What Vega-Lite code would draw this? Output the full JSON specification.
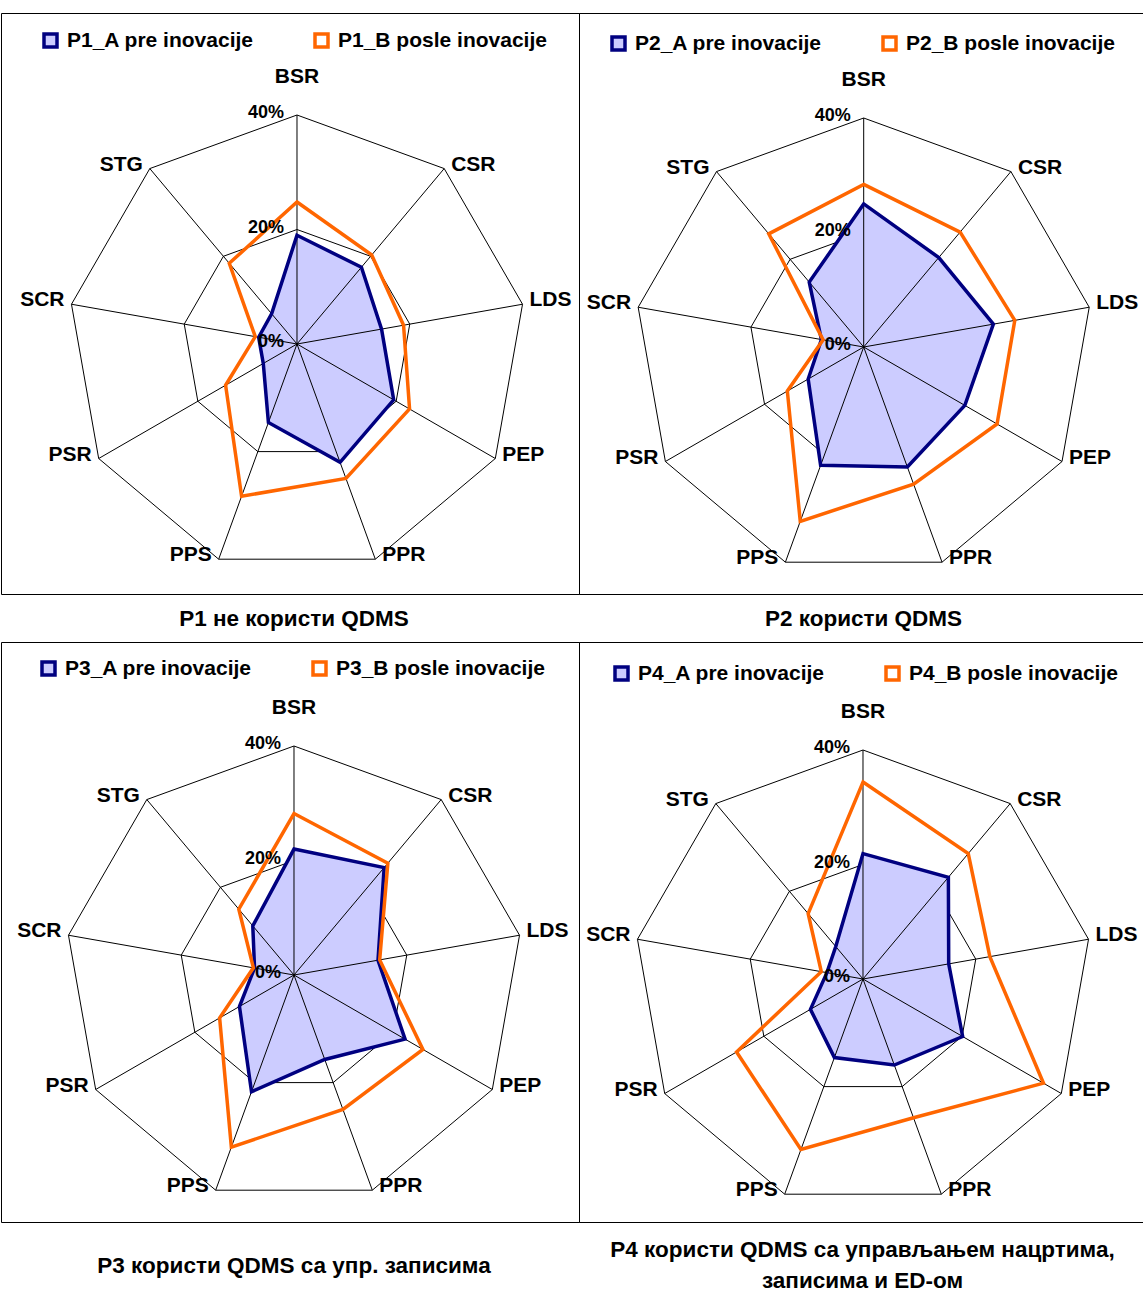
{
  "$schema": "https://vega.github.io/schema/vega-lite/v6.json",
  "padding": {"top": 12, "left": 0, "right": 0, "bottom": 0},
  "background": "white",
  "spacing": 0,
  "config": {
    "view": {"stroke": "black", "strokeWidth": 1},
    "font": "Liberation Sans",
    "concat": {"spacing": 0},
    "legend": {
      "direction": "horizontal",
      "symbolType": "square",
      "symbolSize": 169,
      "symbolStrokeWidth": 3.5,
      "labelFont": "Liberation Sans",
      "labelFontSize": 21,
      "labelFontWeight": "bold",
      "labelColor": "black",
      "labelOffset": 6,
      "labelLimit": 400,
      "columnPadding": 54,
      "padding": 0
    }
  },
  "datasets": {
    "grid": [
      {"axis": "BSR", "value": 0}, {"axis": "CSR", "value": 0}, {"axis": "LDS", "value": 0}, {"axis": "PEP", "value": 0}, {"axis": "PPR", "value": 0}, {"axis": "PPS", "value": 0}, {"axis": "PSR", "value": 0}, {"axis": "SCR", "value": 0}, {"axis": "STG", "value": 0},
      {"axis": "BSR", "value": 0.2}, {"axis": "CSR", "value": 0.2}, {"axis": "LDS", "value": 0.2}, {"axis": "PEP", "value": 0.2}, {"axis": "PPR", "value": 0.2}, {"axis": "PPS", "value": 0.2}, {"axis": "PSR", "value": 0.2}, {"axis": "SCR", "value": 0.2}, {"axis": "STG", "value": 0.2},
      {"axis": "BSR", "value": 0.4}, {"axis": "CSR", "value": 0.4}, {"axis": "LDS", "value": 0.4}, {"axis": "PEP", "value": 0.4}, {"axis": "PPR", "value": 0.4}, {"axis": "PPS", "value": 0.4}, {"axis": "PSR", "value": 0.4}, {"axis": "SCR", "value": 0.4}, {"axis": "STG", "value": 0.4}
    ],
    "scores": [
      {"panel": "P1", "series": "P1_A pre inovacije", "axis": "BSR", "value": 0.19},
      {"panel": "P1", "series": "P1_A pre inovacije", "axis": "CSR", "value": 0.175},
      {"panel": "P1", "series": "P1_A pre inovacije", "axis": "LDS", "value": 0.15},
      {"panel": "P1", "series": "P1_A pre inovacije", "axis": "PEP", "value": 0.195},
      {"panel": "P1", "series": "P1_A pre inovacije", "axis": "PPR", "value": 0.22},
      {"panel": "P1", "series": "P1_A pre inovacije", "axis": "PPS", "value": 0.146},
      {"panel": "P1", "series": "P1_A pre inovacije", "axis": "PSR", "value": 0.068},
      {"panel": "P1", "series": "P1_A pre inovacije", "axis": "SCR", "value": 0.068},
      {"panel": "P1", "series": "P1_A pre inovacije", "axis": "STG", "value": 0.069},
      {"panel": "P1", "series": "P1_B posle inovacije", "axis": "BSR", "value": 0.248},
      {"panel": "P1", "series": "P1_B posle inovacije", "axis": "CSR", "value": 0.203},
      {"panel": "P1", "series": "P1_B posle inovacije", "axis": "LDS", "value": 0.189},
      {"panel": "P1", "series": "P1_B posle inovacije", "axis": "PEP", "value": 0.227},
      {"panel": "P1", "series": "P1_B posle inovacije", "axis": "PPR", "value": 0.25},
      {"panel": "P1", "series": "P1_B posle inovacije", "axis": "PPS", "value": 0.283},
      {"panel": "P1", "series": "P1_B posle inovacije", "axis": "PSR", "value": 0.144},
      {"panel": "P1", "series": "P1_B posle inovacije", "axis": "SCR", "value": 0.074},
      {"panel": "P1", "series": "P1_B posle inovacije", "axis": "STG", "value": 0.184},
      {"panel": "P2", "series": "P2_A pre inovacije", "axis": "BSR", "value": 0.25},
      {"panel": "P2", "series": "P2_A pre inovacije", "axis": "CSR", "value": 0.204},
      {"panel": "P2", "series": "P2_A pre inovacije", "axis": "LDS", "value": 0.23},
      {"panel": "P2", "series": "P2_A pre inovacije", "axis": "PEP", "value": 0.204},
      {"panel": "P2", "series": "P2_A pre inovacije", "axis": "PPR", "value": 0.223},
      {"panel": "P2", "series": "P2_A pre inovacije", "axis": "PPS", "value": 0.22},
      {"panel": "P2", "series": "P2_A pre inovacije", "axis": "PSR", "value": 0.112},
      {"panel": "P2", "series": "P2_A pre inovacije", "axis": "SCR", "value": 0.075},
      {"panel": "P2", "series": "P2_A pre inovacije", "axis": "STG", "value": 0.148},
      {"panel": "P2", "series": "P2_B posle inovacije", "axis": "BSR", "value": 0.284},
      {"panel": "P2", "series": "P2_B posle inovacije", "axis": "CSR", "value": 0.262},
      {"panel": "P2", "series": "P2_B posle inovacije", "axis": "LDS", "value": 0.268},
      {"panel": "P2", "series": "P2_B posle inovacije", "axis": "PEP", "value": 0.269},
      {"panel": "P2", "series": "P2_B posle inovacije", "axis": "PPR", "value": 0.255},
      {"panel": "P2", "series": "P2_B posle inovacije", "axis": "PPS", "value": 0.324},
      {"panel": "P2", "series": "P2_B posle inovacije", "axis": "PSR", "value": 0.154},
      {"panel": "P2", "series": "P2_B posle inovacije", "axis": "SCR", "value": 0.072},
      {"panel": "P2", "series": "P2_B posle inovacije", "axis": "STG", "value": 0.258},
      {"panel": "P3", "series": "P3_A pre inovacije", "axis": "BSR", "value": 0.22},
      {"panel": "P3", "series": "P3_A pre inovacije", "axis": "CSR", "value": 0.245},
      {"panel": "P3", "series": "P3_A pre inovacije", "axis": "LDS", "value": 0.149},
      {"panel": "P3", "series": "P3_A pre inovacije", "axis": "PEP", "value": 0.224},
      {"panel": "P3", "series": "P3_A pre inovacije", "axis": "PPR", "value": 0.157},
      {"panel": "P3", "series": "P3_A pre inovacije", "axis": "PPS", "value": 0.217},
      {"panel": "P3", "series": "P3_A pre inovacije", "axis": "PSR", "value": 0.11},
      {"panel": "P3", "series": "P3_A pre inovacije", "axis": "SCR", "value": 0.07},
      {"panel": "P3", "series": "P3_A pre inovacije", "axis": "STG", "value": 0.112},
      {"panel": "P3", "series": "P3_B posle inovacije", "axis": "BSR", "value": 0.282},
      {"panel": "P3", "series": "P3_B posle inovacije", "axis": "CSR", "value": 0.255},
      {"panel": "P3", "series": "P3_B posle inovacije", "axis": "LDS", "value": 0.152},
      {"panel": "P3", "series": "P3_B posle inovacije", "axis": "PEP", "value": 0.26},
      {"panel": "P3", "series": "P3_B posle inovacije", "axis": "PPR", "value": 0.25},
      {"panel": "P3", "series": "P3_B posle inovacije", "axis": "PPS", "value": 0.32},
      {"panel": "P3", "series": "P3_B posle inovacije", "axis": "PSR", "value": 0.15},
      {"panel": "P3", "series": "P3_B posle inovacije", "axis": "SCR", "value": 0.072},
      {"panel": "P3", "series": "P3_B posle inovacije", "axis": "STG", "value": 0.15},
      {"panel": "P4", "series": "P4_A pre inovacije", "axis": "BSR", "value": 0.219},
      {"panel": "P4", "series": "P4_A pre inovacije", "axis": "CSR", "value": 0.232},
      {"panel": "P4", "series": "P4_A pre inovacije", "axis": "LDS", "value": 0.152},
      {"panel": "P4", "series": "P4_A pre inovacije", "axis": "PEP", "value": 0.201},
      {"panel": "P4", "series": "P4_A pre inovacije", "axis": "PPR", "value": 0.16},
      {"panel": "P4", "series": "P4_A pre inovacije", "axis": "PPS", "value": 0.146},
      {"panel": "P4", "series": "P4_A pre inovacije", "axis": "PSR", "value": 0.106},
      {"panel": "P4", "series": "P4_A pre inovacije", "axis": "SCR", "value": 0.064},
      {"panel": "P4", "series": "P4_A pre inovacije", "axis": "STG", "value": 0.074},
      {"panel": "P4", "series": "P4_B posle inovacije", "axis": "BSR", "value": 0.344},
      {"panel": "P4", "series": "P4_B posle inovacije", "axis": "CSR", "value": 0.286},
      {"panel": "P4", "series": "P4_B posle inovacije", "axis": "LDS", "value": 0.225},
      {"panel": "P4", "series": "P4_B posle inovacije", "axis": "PEP", "value": 0.364},
      {"panel": "P4", "series": "P4_B posle inovacije", "axis": "PPR", "value": 0.258},
      {"panel": "P4", "series": "P4_B posle inovacije", "axis": "PPS", "value": 0.317},
      {"panel": "P4", "series": "P4_B posle inovacije", "axis": "PSR", "value": 0.255},
      {"panel": "P4", "series": "P4_B posle inovacije", "axis": "SCR", "value": 0.074},
      {"panel": "P4", "series": "P4_B posle inovacije", "axis": "STG", "value": 0.149}
    ]
  },
  "resolve": {"scale": {"x": "independent", "y": "independent", "stroke": "independent"}, "legend": {"stroke": "independent"}},
  "vconcat": [
    {
      "hconcat": [
        {
          "width": 578, "height": 581,
          "encoding": {
            "x": {"field": "gx", "type": "quantitative", "axis": null, "scale": {"domain": [-0.51703, 0.49258], "nice": false, "zero": false}},
            "y": {"field": "gy", "type": "quantitative", "axis": null, "scale": {"domain": [-0.43668, 0.57817], "nice": false, "zero": false}}
          },
          "layer": [
            {"data": {"name": "grid"}, "transform": [{"filter": "datum.value > 0"}, {"calculate": "indexof(['BSR','CSR','LDS','PEP','PPR','PPS','PSR','SCR','STG'], datum.axis)", "as": "i"}, {"calculate": "datum.value*sin(2*PI*datum.i/9)", "as": "gx"}, {"calculate": "datum.value*cos(2*PI*datum.i/9)", "as": "gy"}],
             "mark": {"type": "line", "interpolate": "linear-closed", "color": "black", "strokeWidth": 1},
             "encoding": {"detail": {"field": "value", "type": "nominal"}, "order": {"field": "i", "type": "quantitative"}}},
            {"data": {"name": "scores"}, "transform": [{"filter": "datum.panel == 'P1' && indexof(datum.series, '_A') >= 0"}, {"calculate": "indexof(['BSR','CSR','LDS','PEP','PPR','PPS','PSR','SCR','STG'], datum.axis)", "as": "i"}, {"calculate": "datum.value*sin(2*PI*datum.i/9)", "as": "gx"}, {"calculate": "datum.value*cos(2*PI*datum.i/9)", "as": "gy"}],
             "mark": {"type": "line", "interpolate": "linear-closed", "fill": "#CCCCFF", "strokeWidth": 0},
             "encoding": {"order": {"field": "i", "type": "quantitative"}}},
            {"data": {"name": "grid"}, "transform": [{"filter": "datum.value == 0.4"}, {"calculate": "indexof(['BSR','CSR','LDS','PEP','PPR','PPS','PSR','SCR','STG'], datum.axis)", "as": "i"}, {"calculate": "datum.value*sin(2*PI*datum.i/9)", "as": "gx"}, {"calculate": "datum.value*cos(2*PI*datum.i/9)", "as": "gy"}],
             "mark": {"type": "rule", "color": "black", "strokeWidth": 1},
             "encoding": {"x2": {"datum": 0}, "y2": {"datum": 0}}},
            {"data": {"name": "scores"}, "transform": [{"filter": "datum.panel == 'P1'"}, {"calculate": "indexof(['BSR','CSR','LDS','PEP','PPR','PPS','PSR','SCR','STG'], datum.axis)", "as": "i"}, {"calculate": "datum.value*sin(2*PI*datum.i/9)", "as": "gx"}, {"calculate": "datum.value*cos(2*PI*datum.i/9)", "as": "gy"}],
             "mark": {"type": "line", "interpolate": "linear-closed", "strokeWidth": 3.5},
             "encoding": {"order": {"field": "i", "type": "quantitative"},
               "stroke": {"field": "series", "type": "nominal", "scale": {"domain": ["P1_A pre inovacije", "P1_B posle inovacije"], "range": ["#000080", "#FF6600"]},
                 "legend": {"title": null, "orient": "none", "legendX": 39, "legendY": 17, "encode": {"symbols": {"update": {"fill": {"signal": "indexof(datum.value, '_A') >= 0 ? '#CCCCFF' : '#FFFFFF'"}}}}}}}},
            {"data": {"name": "grid"}, "transform": [{"filter": "datum.value == 0.4 && datum.axis == 'BSR'"}, {"calculate": "indexof(['BSR','CSR','LDS','PEP','PPR','PPS','PSR','SCR','STG'], datum.axis)", "as": "i"}, {"calculate": "datum.value*sin(2*PI*datum.i/9)", "as": "gx"}, {"calculate": "datum.value*cos(2*PI*datum.i/9)", "as": "gy"}],
             "mark": {"type": "text", "fontSize": 21, "fontWeight": "bold", "color": "black", "align": "center", "baseline": "middle", "dy": -38},
             "encoding": {"text": {"field": "axis", "type": "nominal"}}},
            {"data": {"name": "grid"}, "transform": [{"filter": "datum.value == 0.4 && indexof(['CSR','LDS','PEP','PPR'], datum.axis) >= 0"}, {"calculate": "indexof(['BSR','CSR','LDS','PEP','PPR','PPS','PSR','SCR','STG'], datum.axis)", "as": "i"}, {"calculate": "datum.value*sin(2*PI*datum.i/9)", "as": "gx"}, {"calculate": "datum.value*cos(2*PI*datum.i/9)", "as": "gy"}],
             "mark": {"type": "text", "fontSize": 21, "fontWeight": "bold", "color": "black", "align": "left", "baseline": "middle", "dx": 7, "dy": -4},
             "encoding": {"text": {"field": "axis", "type": "nominal"}}},
            {"data": {"name": "grid"}, "transform": [{"filter": "datum.value == 0.4 && indexof(['PPS','PSR','SCR','STG'], datum.axis) >= 0"}, {"calculate": "indexof(['BSR','CSR','LDS','PEP','PPR','PPS','PSR','SCR','STG'], datum.axis)", "as": "i"}, {"calculate": "datum.value*sin(2*PI*datum.i/9)", "as": "gx"}, {"calculate": "datum.value*cos(2*PI*datum.i/9)", "as": "gy"}],
             "mark": {"type": "text", "fontSize": 21, "fontWeight": "bold", "color": "black", "align": "right", "baseline": "middle", "dx": -7, "dy": -4},
             "encoding": {"text": {"field": "axis", "type": "nominal"}}},
            {"data": {"name": "grid"}, "transform": [{"filter": "datum.axis == 'BSR'"}, {"calculate": "indexof(['BSR','CSR','LDS','PEP','PPR','PPS','PSR','SCR','STG'], datum.axis)", "as": "i"}, {"calculate": "datum.value*sin(2*PI*datum.i/9)", "as": "gx"}, {"calculate": "datum.value*cos(2*PI*datum.i/9)", "as": "gy"}],
             "mark": {"type": "text", "fontSize": 18, "fontWeight": "bold", "color": "black", "align": "right", "baseline": "middle", "dx": -13, "dy": -2},
             "encoding": {"text": {"field": "value", "type": "quantitative", "format": ".0%"}}}
          ]
        },
        {
          "width": 565, "height": 581,
          "encoding": {
            "x": {"field": "gx", "type": "quantitative", "axis": null, "scale": {"domain": [-0.49729, 0.48961], "nice": false, "zero": false}},
            "y": {"field": "gy", "type": "quantitative", "axis": null, "scale": {"domain": [-0.43144, 0.58341], "nice": false, "zero": false}}
          },
          "layer": [
            {"data": {"name": "grid"}, "transform": [{"filter": "datum.value > 0"}, {"calculate": "indexof(['BSR','CSR','LDS','PEP','PPR','PPS','PSR','SCR','STG'], datum.axis)", "as": "i"}, {"calculate": "datum.value*sin(2*PI*datum.i/9)", "as": "gx"}, {"calculate": "datum.value*cos(2*PI*datum.i/9)", "as": "gy"}],
             "mark": {"type": "line", "interpolate": "linear-closed", "color": "black", "strokeWidth": 1},
             "encoding": {"detail": {"field": "value", "type": "nominal"}, "order": {"field": "i", "type": "quantitative"}}},
            {"data": {"name": "scores"}, "transform": [{"filter": "datum.panel == 'P2' && indexof(datum.series, '_A') >= 0"}, {"calculate": "indexof(['BSR','CSR','LDS','PEP','PPR','PPS','PSR','SCR','STG'], datum.axis)", "as": "i"}, {"calculate": "datum.value*sin(2*PI*datum.i/9)", "as": "gx"}, {"calculate": "datum.value*cos(2*PI*datum.i/9)", "as": "gy"}],
             "mark": {"type": "line", "interpolate": "linear-closed", "fill": "#CCCCFF", "strokeWidth": 0},
             "encoding": {"order": {"field": "i", "type": "quantitative"}}},
            {"data": {"name": "grid"}, "transform": [{"filter": "datum.value == 0.4"}, {"calculate": "indexof(['BSR','CSR','LDS','PEP','PPR','PPS','PSR','SCR','STG'], datum.axis)", "as": "i"}, {"calculate": "datum.value*sin(2*PI*datum.i/9)", "as": "gx"}, {"calculate": "datum.value*cos(2*PI*datum.i/9)", "as": "gy"}],
             "mark": {"type": "rule", "color": "black", "strokeWidth": 1},
             "encoding": {"x2": {"datum": 0}, "y2": {"datum": 0}}},
            {"data": {"name": "scores"}, "transform": [{"filter": "datum.panel == 'P2'"}, {"calculate": "indexof(['BSR','CSR','LDS','PEP','PPR','PPS','PSR','SCR','STG'], datum.axis)", "as": "i"}, {"calculate": "datum.value*sin(2*PI*datum.i/9)", "as": "gx"}, {"calculate": "datum.value*cos(2*PI*datum.i/9)", "as": "gy"}],
             "mark": {"type": "line", "interpolate": "linear-closed", "strokeWidth": 3.5},
             "encoding": {"order": {"field": "i", "type": "quantitative"},
               "stroke": {"field": "series", "type": "nominal", "scale": {"domain": ["P2_A pre inovacije", "P2_B posle inovacije"], "range": ["#000080", "#FF6600"]},
                 "legend": {"title": null, "orient": "none", "legendX": 29, "legendY": 20, "encode": {"symbols": {"update": {"fill": {"signal": "indexof(datum.value, '_A') >= 0 ? '#CCCCFF' : '#FFFFFF'"}}}}}}}},
            {"data": {"name": "grid"}, "transform": [{"filter": "datum.value == 0.4 && datum.axis == 'BSR'"}, {"calculate": "indexof(['BSR','CSR','LDS','PEP','PPR','PPS','PSR','SCR','STG'], datum.axis)", "as": "i"}, {"calculate": "datum.value*sin(2*PI*datum.i/9)", "as": "gx"}, {"calculate": "datum.value*cos(2*PI*datum.i/9)", "as": "gy"}],
             "mark": {"type": "text", "fontSize": 21, "fontWeight": "bold", "color": "black", "align": "center", "baseline": "middle", "dy": -38},
             "encoding": {"text": {"field": "axis", "type": "nominal"}}},
            {"data": {"name": "grid"}, "transform": [{"filter": "datum.value == 0.4 && indexof(['CSR','LDS','PEP','PPR'], datum.axis) >= 0"}, {"calculate": "indexof(['BSR','CSR','LDS','PEP','PPR','PPS','PSR','SCR','STG'], datum.axis)", "as": "i"}, {"calculate": "datum.value*sin(2*PI*datum.i/9)", "as": "gx"}, {"calculate": "datum.value*cos(2*PI*datum.i/9)", "as": "gy"}],
             "mark": {"type": "text", "fontSize": 21, "fontWeight": "bold", "color": "black", "align": "left", "baseline": "middle", "dx": 7, "dy": -4},
             "encoding": {"text": {"field": "axis", "type": "nominal"}}},
            {"data": {"name": "grid"}, "transform": [{"filter": "datum.value == 0.4 && indexof(['PPS','PSR','SCR','STG'], datum.axis) >= 0"}, {"calculate": "indexof(['BSR','CSR','LDS','PEP','PPR','PPS','PSR','SCR','STG'], datum.axis)", "as": "i"}, {"calculate": "datum.value*sin(2*PI*datum.i/9)", "as": "gx"}, {"calculate": "datum.value*cos(2*PI*datum.i/9)", "as": "gy"}],
             "mark": {"type": "text", "fontSize": 21, "fontWeight": "bold", "color": "black", "align": "right", "baseline": "middle", "dx": -7, "dy": -4},
             "encoding": {"text": {"field": "axis", "type": "nominal"}}},
            {"data": {"name": "grid"}, "transform": [{"filter": "datum.axis == 'BSR'"}, {"calculate": "indexof(['BSR','CSR','LDS','PEP','PPR','PPS','PSR','SCR','STG'], datum.axis)", "as": "i"}, {"calculate": "datum.value*sin(2*PI*datum.i/9)", "as": "gx"}, {"calculate": "datum.value*cos(2*PI*datum.i/9)", "as": "gy"}],
             "mark": {"type": "text", "fontSize": 18, "fontWeight": "bold", "color": "black", "align": "right", "baseline": "middle", "dx": -13, "dy": -2},
             "encoding": {"text": {"field": "value", "type": "quantitative", "format": ".0%"}}}
          ]
        }
      ],
      "spacing": 0,
      "bounds": "flush",
      "resolve": {"scale": {"x": "independent", "y": "independent", "stroke": "independent"}, "legend": {"stroke": "independent"}}
    },
    {
      "hconcat": [
        {"width": 578, "height": 46, "data": {"values": [{"caption": "P1 не користи QDMS"}]},
         "mark": {"type": "text", "font": "Liberation Sans", "fontSize": 22.5, "fontWeight": "bold", "color": "black", "align": "center", "baseline": "middle", "dx": 4, "dy": 1},
         "encoding": {"text": {"field": "caption", "type": "nominal"}}},
        {"width": 565, "height": 46, "data": {"values": [{"caption": "P2 користи QDMS"}]},
         "mark": {"type": "text", "font": "Liberation Sans", "fontSize": 22.5, "fontWeight": "bold", "color": "black", "align": "center", "baseline": "middle", "dx": 2, "dy": 1},
         "encoding": {"text": {"field": "caption", "type": "nominal"}}}
      ],
      "spacing": 0,
      "bounds": "flush"
    },
    {
      "hconcat": [
        {
          "width": 578, "height": 580,
          "encoding": {
            "x": {"field": "gx", "type": "quantitative", "axis": null, "scale": {"domain": [-0.51179, 0.49782], "nice": false, "zero": false}},
            "y": {"field": "gy", "type": "quantitative", "axis": null, "scale": {"domain": [-0.43144, 0.58166], "nice": false, "zero": false}}
          },
          "layer": [
            {"data": {"name": "grid"}, "transform": [{"filter": "datum.value > 0"}, {"calculate": "indexof(['BSR','CSR','LDS','PEP','PPR','PPS','PSR','SCR','STG'], datum.axis)", "as": "i"}, {"calculate": "datum.value*sin(2*PI*datum.i/9)", "as": "gx"}, {"calculate": "datum.value*cos(2*PI*datum.i/9)", "as": "gy"}],
             "mark": {"type": "line", "interpolate": "linear-closed", "color": "black", "strokeWidth": 1},
             "encoding": {"detail": {"field": "value", "type": "nominal"}, "order": {"field": "i", "type": "quantitative"}}},
            {"data": {"name": "scores"}, "transform": [{"filter": "datum.panel == 'P3' && indexof(datum.series, '_A') >= 0"}, {"calculate": "indexof(['BSR','CSR','LDS','PEP','PPR','PPS','PSR','SCR','STG'], datum.axis)", "as": "i"}, {"calculate": "datum.value*sin(2*PI*datum.i/9)", "as": "gx"}, {"calculate": "datum.value*cos(2*PI*datum.i/9)", "as": "gy"}],
             "mark": {"type": "line", "interpolate": "linear-closed", "fill": "#CCCCFF", "strokeWidth": 0},
             "encoding": {"order": {"field": "i", "type": "quantitative"}}},
            {"data": {"name": "grid"}, "transform": [{"filter": "datum.value == 0.4"}, {"calculate": "indexof(['BSR','CSR','LDS','PEP','PPR','PPS','PSR','SCR','STG'], datum.axis)", "as": "i"}, {"calculate": "datum.value*sin(2*PI*datum.i/9)", "as": "gx"}, {"calculate": "datum.value*cos(2*PI*datum.i/9)", "as": "gy"}],
             "mark": {"type": "rule", "color": "black", "strokeWidth": 1},
             "encoding": {"x2": {"datum": 0}, "y2": {"datum": 0}}},
            {"data": {"name": "scores"}, "transform": [{"filter": "datum.panel == 'P3'"}, {"calculate": "indexof(['BSR','CSR','LDS','PEP','PPR','PPS','PSR','SCR','STG'], datum.axis)", "as": "i"}, {"calculate": "datum.value*sin(2*PI*datum.i/9)", "as": "gx"}, {"calculate": "datum.value*cos(2*PI*datum.i/9)", "as": "gy"}],
             "mark": {"type": "line", "interpolate": "linear-closed", "strokeWidth": 3.5},
             "encoding": {"order": {"field": "i", "type": "quantitative"},
               "stroke": {"field": "series", "type": "nominal", "scale": {"domain": ["P3_A pre inovacije", "P3_B posle inovacije"], "range": ["#000080", "#FF6600"]},
                 "legend": {"title": null, "orient": "none", "legendX": 37, "legendY": 16, "encode": {"symbols": {"update": {"fill": {"signal": "indexof(datum.value, '_A') >= 0 ? '#CCCCFF' : '#FFFFFF'"}}}}}}}},
            {"data": {"name": "grid"}, "transform": [{"filter": "datum.value == 0.4 && datum.axis == 'BSR'"}, {"calculate": "indexof(['BSR','CSR','LDS','PEP','PPR','PPS','PSR','SCR','STG'], datum.axis)", "as": "i"}, {"calculate": "datum.value*sin(2*PI*datum.i/9)", "as": "gx"}, {"calculate": "datum.value*cos(2*PI*datum.i/9)", "as": "gy"}],
             "mark": {"type": "text", "fontSize": 21, "fontWeight": "bold", "color": "black", "align": "center", "baseline": "middle", "dy": -38},
             "encoding": {"text": {"field": "axis", "type": "nominal"}}},
            {"data": {"name": "grid"}, "transform": [{"filter": "datum.value == 0.4 && indexof(['CSR','LDS','PEP','PPR'], datum.axis) >= 0"}, {"calculate": "indexof(['BSR','CSR','LDS','PEP','PPR','PPS','PSR','SCR','STG'], datum.axis)", "as": "i"}, {"calculate": "datum.value*sin(2*PI*datum.i/9)", "as": "gx"}, {"calculate": "datum.value*cos(2*PI*datum.i/9)", "as": "gy"}],
             "mark": {"type": "text", "fontSize": 21, "fontWeight": "bold", "color": "black", "align": "left", "baseline": "middle", "dx": 7, "dy": -4},
             "encoding": {"text": {"field": "axis", "type": "nominal"}}},
            {"data": {"name": "grid"}, "transform": [{"filter": "datum.value == 0.4 && indexof(['PPS','PSR','SCR','STG'], datum.axis) >= 0"}, {"calculate": "indexof(['BSR','CSR','LDS','PEP','PPR','PPS','PSR','SCR','STG'], datum.axis)", "as": "i"}, {"calculate": "datum.value*sin(2*PI*datum.i/9)", "as": "gx"}, {"calculate": "datum.value*cos(2*PI*datum.i/9)", "as": "gy"}],
             "mark": {"type": "text", "fontSize": 21, "fontWeight": "bold", "color": "black", "align": "right", "baseline": "middle", "dx": -7, "dy": -4},
             "encoding": {"text": {"field": "axis", "type": "nominal"}}},
            {"data": {"name": "grid"}, "transform": [{"filter": "datum.axis == 'BSR'"}, {"calculate": "indexof(['BSR','CSR','LDS','PEP','PPR','PPS','PSR','SCR','STG'], datum.axis)", "as": "i"}, {"calculate": "datum.value*sin(2*PI*datum.i/9)", "as": "gx"}, {"calculate": "datum.value*cos(2*PI*datum.i/9)", "as": "gy"}],
             "mark": {"type": "text", "fontSize": 18, "fontWeight": "bold", "color": "black", "align": "right", "baseline": "middle", "dx": -13, "dy": -2},
             "encoding": {"text": {"field": "value", "type": "quantitative", "format": ".0%"}}}
          ]
        },
        {
          "width": 565, "height": 580,
          "encoding": {
            "x": {"field": "gx", "type": "quantitative", "axis": null, "scale": {"domain": [-0.49607, 0.49083], "nice": false, "zero": false}},
            "y": {"field": "gy", "type": "quantitative", "axis": null, "scale": {"domain": [-0.42445, 0.58865], "nice": false, "zero": false}}
          },
          "layer": [
            {"data": {"name": "grid"}, "transform": [{"filter": "datum.value > 0"}, {"calculate": "indexof(['BSR','CSR','LDS','PEP','PPR','PPS','PSR','SCR','STG'], datum.axis)", "as": "i"}, {"calculate": "datum.value*sin(2*PI*datum.i/9)", "as": "gx"}, {"calculate": "datum.value*cos(2*PI*datum.i/9)", "as": "gy"}],
             "mark": {"type": "line", "interpolate": "linear-closed", "color": "black", "strokeWidth": 1},
             "encoding": {"detail": {"field": "value", "type": "nominal"}, "order": {"field": "i", "type": "quantitative"}}},
            {"data": {"name": "scores"}, "transform": [{"filter": "datum.panel == 'P4' && indexof(datum.series, '_A') >= 0"}, {"calculate": "indexof(['BSR','CSR','LDS','PEP','PPR','PPS','PSR','SCR','STG'], datum.axis)", "as": "i"}, {"calculate": "datum.value*sin(2*PI*datum.i/9)", "as": "gx"}, {"calculate": "datum.value*cos(2*PI*datum.i/9)", "as": "gy"}],
             "mark": {"type": "line", "interpolate": "linear-closed", "fill": "#CCCCFF", "strokeWidth": 0},
             "encoding": {"order": {"field": "i", "type": "quantitative"}}},
            {"data": {"name": "grid"}, "transform": [{"filter": "datum.value == 0.4"}, {"calculate": "indexof(['BSR','CSR','LDS','PEP','PPR','PPS','PSR','SCR','STG'], datum.axis)", "as": "i"}, {"calculate": "datum.value*sin(2*PI*datum.i/9)", "as": "gx"}, {"calculate": "datum.value*cos(2*PI*datum.i/9)", "as": "gy"}],
             "mark": {"type": "rule", "color": "black", "strokeWidth": 1},
             "encoding": {"x2": {"datum": 0}, "y2": {"datum": 0}}},
            {"data": {"name": "scores"}, "transform": [{"filter": "datum.panel == 'P4'"}, {"calculate": "indexof(['BSR','CSR','LDS','PEP','PPR','PPS','PSR','SCR','STG'], datum.axis)", "as": "i"}, {"calculate": "datum.value*sin(2*PI*datum.i/9)", "as": "gx"}, {"calculate": "datum.value*cos(2*PI*datum.i/9)", "as": "gy"}],
             "mark": {"type": "line", "interpolate": "linear-closed", "strokeWidth": 3.5},
             "encoding": {"order": {"field": "i", "type": "quantitative"},
               "stroke": {"field": "series", "type": "nominal", "scale": {"domain": ["P4_A pre inovacije", "P4_B posle inovacije"], "range": ["#000080", "#FF6600"]},
                 "legend": {"title": null, "orient": "none", "legendX": 32, "legendY": 21, "encode": {"symbols": {"update": {"fill": {"signal": "indexof(datum.value, '_A') >= 0 ? '#CCCCFF' : '#FFFFFF'"}}}}}}}},
            {"data": {"name": "grid"}, "transform": [{"filter": "datum.value == 0.4 && datum.axis == 'BSR'"}, {"calculate": "indexof(['BSR','CSR','LDS','PEP','PPR','PPS','PSR','SCR','STG'], datum.axis)", "as": "i"}, {"calculate": "datum.value*sin(2*PI*datum.i/9)", "as": "gx"}, {"calculate": "datum.value*cos(2*PI*datum.i/9)", "as": "gy"}],
             "mark": {"type": "text", "fontSize": 21, "fontWeight": "bold", "color": "black", "align": "center", "baseline": "middle", "dy": -38},
             "encoding": {"text": {"field": "axis", "type": "nominal"}}},
            {"data": {"name": "grid"}, "transform": [{"filter": "datum.value == 0.4 && indexof(['CSR','LDS','PEP','PPR'], datum.axis) >= 0"}, {"calculate": "indexof(['BSR','CSR','LDS','PEP','PPR','PPS','PSR','SCR','STG'], datum.axis)", "as": "i"}, {"calculate": "datum.value*sin(2*PI*datum.i/9)", "as": "gx"}, {"calculate": "datum.value*cos(2*PI*datum.i/9)", "as": "gy"}],
             "mark": {"type": "text", "fontSize": 21, "fontWeight": "bold", "color": "black", "align": "left", "baseline": "middle", "dx": 7, "dy": -4},
             "encoding": {"text": {"field": "axis", "type": "nominal"}}},
            {"data": {"name": "grid"}, "transform": [{"filter": "datum.value == 0.4 && indexof(['PPS','PSR','SCR','STG'], datum.axis) >= 0"}, {"calculate": "indexof(['BSR','CSR','LDS','PEP','PPR','PPS','PSR','SCR','STG'], datum.axis)", "as": "i"}, {"calculate": "datum.value*sin(2*PI*datum.i/9)", "as": "gx"}, {"calculate": "datum.value*cos(2*PI*datum.i/9)", "as": "gy"}],
             "mark": {"type": "text", "fontSize": 21, "fontWeight": "bold", "color": "black", "align": "right", "baseline": "middle", "dx": -7, "dy": -4},
             "encoding": {"text": {"field": "axis", "type": "nominal"}}},
            {"data": {"name": "grid"}, "transform": [{"filter": "datum.axis == 'BSR'"}, {"calculate": "indexof(['BSR','CSR','LDS','PEP','PPR','PPS','PSR','SCR','STG'], datum.axis)", "as": "i"}, {"calculate": "datum.value*sin(2*PI*datum.i/9)", "as": "gx"}, {"calculate": "datum.value*cos(2*PI*datum.i/9)", "as": "gy"}],
             "mark": {"type": "text", "fontSize": 18, "fontWeight": "bold", "color": "black", "align": "right", "baseline": "middle", "dx": -13, "dy": -2},
             "encoding": {"text": {"field": "value", "type": "quantitative", "format": ".0%"}}}
          ]
        }
      ],
      "spacing": 0,
      "bounds": "flush",
      "resolve": {"scale": {"x": "independent", "y": "independent", "stroke": "independent"}, "legend": {"stroke": "independent"}}
    },
    {
      "hconcat": [
        {"width": 578, "height": 77, "data": {"values": [{"caption": "P3 користи QDMS са упр. записима"}]},
         "mark": {"type": "text", "font": "Liberation Sans", "fontSize": 22.5, "fontWeight": "bold", "color": "black", "align": "center", "baseline": "middle", "dx": 4, "dy": 4},
         "encoding": {"text": {"field": "caption", "type": "nominal"}}},
        {"width": 565, "height": 77, "data": {"values": [{"caption": "P4 користи QDMS са управљањем нацртима,\nзаписима и ED-ом"}]},
         "mark": {"type": "text", "font": "Liberation Sans", "fontSize": 22.5, "fontWeight": "bold", "color": "black", "align": "center", "baseline": "middle", "lineBreak": "\n", "lineHeight": 31, "dx": 1, "dy": -12},
         "encoding": {"text": {"field": "caption", "type": "nominal"}}}
      ],
      "spacing": 0,
      "bounds": "flush"
    }
  ]
}
